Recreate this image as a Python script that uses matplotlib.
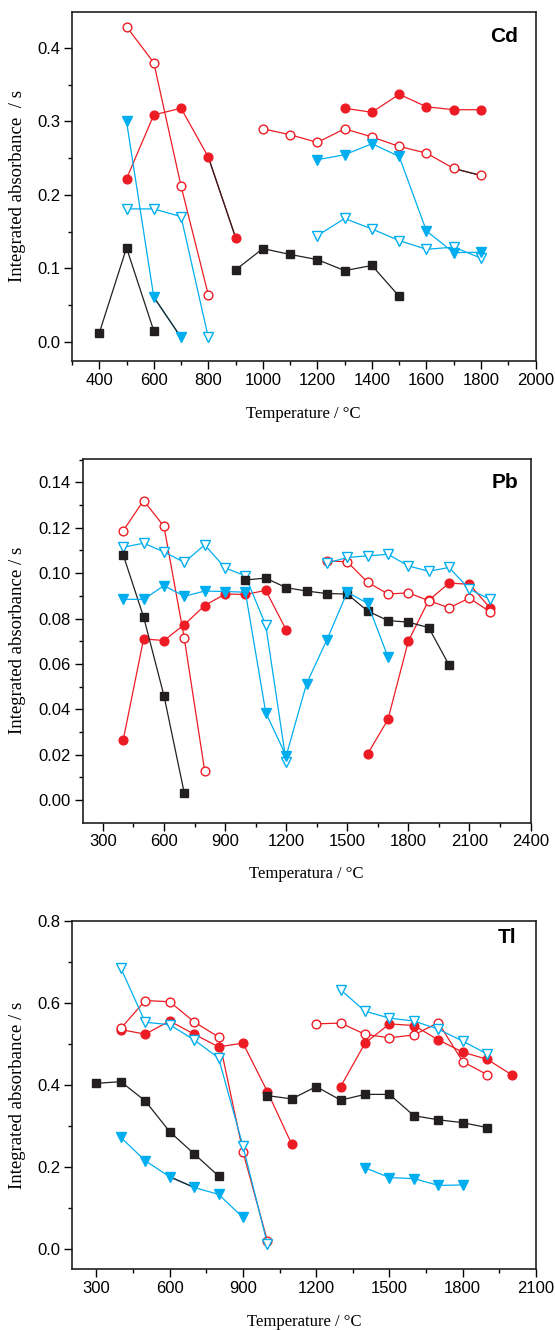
import numpy as np
import matplotlib
matplotlib.use("Agg")
import matplotlib.pyplot as plt
from matplotlib.ticker import MultipleLocator

RED = "#ED1C24"
BLUE = "#00AEEF"
BLACK = "#231F20"

# ---------------------------------------------------------------- Cd data
cd_sq_T1 = [400, 500, 600]
cd_sq_y1 = [0.012, 0.128, 0.015]
cd_sq_T2 = [900, 1000, 1100, 1200, 1300, 1400, 1500]
cd_sq_y2 = [0.098, 0.127, 0.119, 0.112, 0.097, 0.104, 0.062]

cd_rf_T1 = [500, 600, 700, 800, 900]
cd_rf_y1 = [0.222, 0.309, 0.318, 0.2515, 0.142]
cd_rf_T2 = [1300, 1400, 1500, 1600, 1700, 1800]
cd_rf_y2 = [0.318, 0.3125, 0.337, 0.320, 0.316, 0.316]

cd_ro_T1 = [500, 600, 700, 800]
cd_ro_y1 = [0.429, 0.380, 0.212, 0.064]
cd_ro_T2 = [1000, 1100, 1200, 1300, 1400, 1500, 1600, 1700, 1800]
cd_ro_y2 = [0.290, 0.282, 0.2715, 0.290, 0.279, 0.266, 0.257, 0.236, 0.2265]

cd_bf_T1 = [500, 600, 700]
cd_bf_y1 = [0.300, 0.061, 0.006]
cd_bf_T2 = [1200, 1300, 1400, 1500, 1600, 1700, 1800]
cd_bf_y2 = [0.248, 0.2547, 0.2697, 0.2524, 0.151, 0.1215, 0.122]

cd_bo_T1 = [500, 600, 700, 800]
cd_bo_y1 = [0.181, 0.181, 0.1705, 0.006]
cd_bo_T2 = [1200, 1300, 1400, 1500, 1600, 1700, 1800]
cd_bo_y2 = [0.1446, 0.168, 0.1537, 0.138, 0.126, 0.129, 0.114]

# ---------------------------------------------------------------- Pb data
pb_sq_T1 = [400, 500, 600, 700]
pb_sq_y1 = [0.108, 0.0807, 0.046, 0.003]
pb_sq_T2 = [1000, 1100, 1200, 1300, 1400, 1500, 1600, 1700, 1800, 1900, 2000]
pb_sq_y2 = [0.097, 0.0978, 0.0936, 0.0921, 0.091, 0.0908, 0.0833, 0.0791,
            0.0784, 0.076, 0.0595]

pb_rf_T1 = [400, 500, 600, 700, 800, 900, 1000, 1100, 1200]
pb_rf_y1 = [0.0265, 0.071, 0.0703, 0.0773, 0.0857, 0.0908, 0.0906, 0.0924, 0.075]
pb_rf_T2 = [1600, 1700, 1800, 1900, 2000, 2100, 2200]
pb_rf_y2 = [0.0203, 0.0355, 0.070, 0.088, 0.0956, 0.0951, 0.0848]

pb_ro_T1 = [400, 500, 600, 700, 800]
pb_ro_y1 = [0.1187, 0.132, 0.1206, 0.0712, 0.0129]
pb_ro_T2 = [1400, 1500, 1600, 1700, 1800, 1900, 2000, 2100, 2200]
pb_ro_y2 = [0.1054, 0.105, 0.096, 0.0908, 0.0913, 0.0879, 0.0847, 0.089, 0.083]

pb_bf_T = [400, 500, 600, 700, 800, 900, 1000, 1100, 1200, 1300, 1400,
           1500, 1600, 1700]
pb_bf_y = [0.0885, 0.0884, 0.0945, 0.0898, 0.0921, 0.0919, 0.0916, 0.0385,
           0.0194, 0.0512, 0.0706, 0.0916, 0.0867, 0.063]

pb_bo_T1 = [400, 500, 600, 700, 800, 900, 1000, 1100, 1200]
pb_bo_y1 = [0.1114, 0.1132, 0.1094, 0.1047, 0.1125, 0.1023, 0.0988, 0.077, 0.0169]
pb_bo_T2 = [1400, 1500, 1600, 1700, 1800, 1900, 2000, 2100, 2200]
pb_bo_y2 = [0.1044, 0.1069, 0.1076, 0.1083, 0.1032, 0.1008, 0.1025, 0.0929, 0.0885]

# ---------------------------------------------------------------- Tl data
tl_sq_T1 = [300, 400, 500, 600, 700, 800]
tl_sq_y1 = [0.404, 0.408, 0.361, 0.286, 0.232, 0.178]
tl_sq_T2 = [1000, 1100, 1200, 1300, 1400, 1500, 1600, 1700, 1800, 1900]
tl_sq_y2 = [0.374, 0.366, 0.396, 0.363, 0.377, 0.377, 0.325, 0.315, 0.308, 0.296]

tl_rf_T1 = [400, 500, 600, 700, 800, 900, 1000, 1100]
tl_rf_y1 = [0.535, 0.524, 0.556, 0.524, 0.493, 0.502, 0.384, 0.255]
tl_rf_T2 = [1300, 1400, 1500, 1600, 1700, 1800, 1900, 2000]
tl_rf_y2 = [0.396, 0.502, 0.549, 0.545, 0.510, 0.480, 0.4626, 0.425]

tl_ro_T1 = [400, 500, 600, 700, 800, 900, 1000]
tl_ro_y1 = [0.538, 0.606, 0.603, 0.554, 0.517, 0.237, 0.0195]
tl_ro_T2 = [1200, 1300, 1400, 1500, 1600, 1700, 1800, 1900]
tl_ro_y2 = [0.549, 0.551, 0.5236, 0.515, 0.522, 0.552, 0.457, 0.425]

tl_bf_T1 = [400, 500, 600, 700, 800, 900]
tl_bf_y1 = [0.272, 0.215, 0.176, 0.150, 0.133, 0.077]
tl_bf_T2 = [1400, 1500, 1600, 1700, 1800]
tl_bf_y2 = [0.198, 0.174, 0.1715, 0.155, 0.156]

tl_bo_T1 = [400, 500, 600, 700, 800, 900, 1000]
tl_bo_y1 = [0.685, 0.553, 0.547, 0.510, 0.466, 0.251, 0.012]
tl_bo_T2 = [1300, 1400, 1500, 1600, 1700, 1800, 1900]
tl_bo_y2 = [0.632, 0.580, 0.563, 0.556, 0.536, 0.507, 0.4755]

plt.rcParams["font.family"] = ["Liberation Sans", "DejaVu Sans"]
SERIF = ["Liberation Serif", "DejaVu Serif"]

# marker styles: (marker, color, filled, zorder)
STYLE = {
    "rf": ("o", RED, True, 3),
    "ro": ("o", RED, False, 4),
    "bo": ("v", BLUE, False, 5),
    "sq": ("s", BLACK, True, 6),
    "bf": ("v", BLUE, True, 7),
}
MSIZE = {"o": 6.3, "v": 7.5, "s": 5.8}


def series(ax, kind, T, y, black_segs=()):
    m, c, filled, z = STYLE[kind]
    ax.plot(T, y, "-", color=c, lw=0.9, zorder=z)
    # a few segments in the original figure are drawn in black
    for i in black_segs:
        ax.plot(T[i:i + 2], y[i:i + 2], "-", color=BLACK, lw=0.9, zorder=z)
    ax.plot(T, y, ls="none", marker=m, ms=MSIZE[m],
            mfc=c if filled else "white", mec=c, mew=1.0, zorder=z + 0.5)


def style_axes(ax, xlim, ylim, xmaj, xmin, ymaj, ymin, yfmt):
    ax.set_xlim(*xlim)
    ax.set_ylim(*ylim)
    ax.xaxis.set_major_locator(MultipleLocator(xmaj))
    ax.xaxis.set_minor_locator(MultipleLocator(xmin))
    ax.yaxis.set_major_locator(MultipleLocator(ymaj))
    ax.yaxis.set_minor_locator(MultipleLocator(ymin))
    ax.yaxis.set_major_formatter(yfmt)
    ax.tick_params(which="major", direction="out", length=5.5, width=1.0,
                   labelsize=12, top=False, right=False, pad=3)
    ax.tick_params(which="minor", direction="out", length=3, width=1.0,
                   top=False, right=False)
    for s in ax.spines.values():
        s.set_linewidth(1.2)
        s.set_color(BLACK)


fig = plt.figure(figsize=(5.55, 13.3), dpi=100)
W, H = 555.0, 1330.0


def add_ax(l, r, t, b):
    return fig.add_axes([l / W, 1 - b / H, (r - l) / W, (b - t) / H])


# ------------------------------------------------------------------ Cd
ax = add_ax(72, 535.5, 12, 361)
series(ax, "sq", cd_sq_T1, cd_sq_y1)
series(ax, "sq", cd_sq_T2, cd_sq_y2)
series(ax, "rf", cd_rf_T1, cd_rf_y1, black_segs=(3,))
series(ax, "rf", cd_rf_T2, cd_rf_y2)
series(ax, "ro", cd_ro_T1, cd_ro_y1)
series(ax, "ro", cd_ro_T2, cd_ro_y2, black_segs=(7,))
series(ax, "bf", cd_bf_T1, cd_bf_y1, black_segs=(1,))
series(ax, "bf", cd_bf_T2, cd_bf_y2)
series(ax, "bo", cd_bo_T1, cd_bo_y1)
series(ax, "bo", cd_bo_T2, cd_bo_y2)
style_axes(ax, (300, 2000), (-0.026, 0.449), 200, 100, 0.1, 0.05, "{x:.1f}")
ax.set_xlabel("Temperature / °C", family=SERIF, fontsize=12)
ax.xaxis.set_label_coords(0.5, -0.13)
ax.set_ylabel("Integrated absorbance  / s", family=SERIF, fontsize=13.5)
ax.yaxis.set_label_coords(-0.099, 0.5)
ax.text(0.962, 0.93, "Cd", transform=ax.transAxes, ha="right", va="center",
        fontsize=15, fontweight="bold")

# ------------------------------------------------------------------ Pb
ax = add_ax(82.5, 530.5, 459, 822.5)
series(ax, "sq", pb_sq_T1, pb_sq_y1)
series(ax, "sq", pb_sq_T2, pb_sq_y2)
series(ax, "rf", pb_rf_T1, pb_rf_y1)
series(ax, "rf", pb_rf_T2, pb_rf_y2)
series(ax, "ro", pb_ro_T1, pb_ro_y1)
series(ax, "ro", pb_ro_T2, pb_ro_y2)
series(ax, "bf", pb_bf_T, pb_bf_y)
series(ax, "bo", pb_bo_T1, pb_bo_y1)
series(ax, "bo", pb_bo_T2, pb_bo_y2)
style_axes(ax, (200, 2400), (-0.0099, 0.1503), 300, 150, 0.02, 0.01, "{x:.2f}")
ax.set_xlabel("Temperatura / °C", family=SERIF, fontsize=12)
ax.xaxis.set_label_coords(0.5, -0.12)
ax.set_ylabel("Integrated absorbance / s", family=SERIF, fontsize=13.5)
ax.yaxis.set_label_coords(-0.126, 0.5)
ax.text(0.973, 0.935, "Pb", transform=ax.transAxes, ha="right", va="center",
        fontsize=15, fontweight="bold")

# ------------------------------------------------------------------ Tl
ax = add_ax(72, 536, 921, 1269)
series(ax, "sq", tl_sq_T1, tl_sq_y1)
series(ax, "sq", tl_sq_T2, tl_sq_y2)
series(ax, "rf", tl_rf_T1, tl_rf_y1)
series(ax, "rf", tl_rf_T2, tl_rf_y2)
series(ax, "ro", tl_ro_T1, tl_ro_y1)
series(ax, "ro", tl_ro_T2, tl_ro_y2)
series(ax, "bf", tl_bf_T1, tl_bf_y1, black_segs=(2,))
series(ax, "bf", tl_bf_T2, tl_bf_y2)
series(ax, "bo", tl_bo_T1, tl_bo_y1)
series(ax, "bo", tl_bo_T2, tl_bo_y2)
style_axes(ax, (200, 2100), (-0.049, 0.8), 300, 150, 0.2, 0.1, "{x:.1f}")
ax.set_xlabel("Temperature / °C", family=SERIF, fontsize=12)
ax.xaxis.set_label_coords(0.5, -0.13)
ax.set_ylabel("Integrated absorbance / s", family=SERIF, fontsize=13.5)
ax.yaxis.set_label_coords(-0.099, 0.5)
ax.text(0.957, 0.952, "Tl", transform=ax.transAxes, ha="right", va="center",
        fontsize=15, fontweight="bold")

fig.savefig("out.png", dpi=100)
